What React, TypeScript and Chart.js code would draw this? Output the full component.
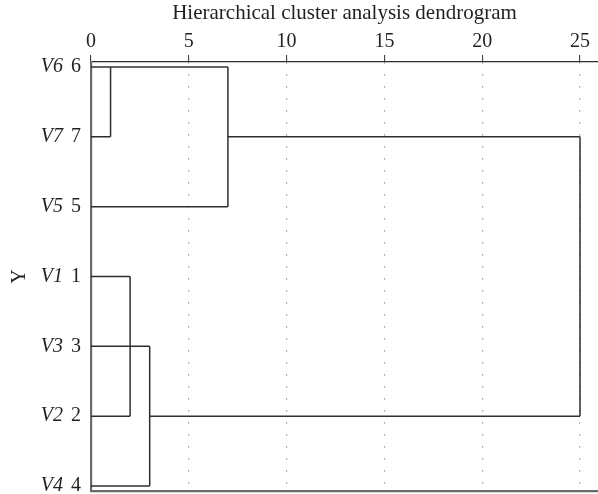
import React, { useEffect, useRef } from "react";
import { Chart, registerables } from "chart.js";

Chart.register(...registerables);

// Leaves (top to bottom)
const leafNames = ["V6", "V7", "V5", "V1", "V3", "V2", "V4"];
const leafIds = ["6", "7", "5", "1", "3", "2", "4"];
const xTickValues = [0, 5, 10, 15, 20, 25];

// Horizontal segments: row index, start distance, end distance
const hRow = [0, 1, 2, 1, 3, 5, 4, 6, 5];
const hFrom = [0, 0, 0, 7, 0, 0, 0, 0, 3];
const hTo = [7, 1, 7, 25, 2, 2, 3, 3, 25];

// Vertical joins: distance, from row, to row
const vAt = [1, 7, 25, 2, 3];
const vFrom = [0, 0, 1, 3, 4];
const vTo = [1, 2, 5, 5, 6];

const titleText = "Hierarchical cluster analysis dendrogram";
const yTitle = "Y";

const FONT = "'Liberation Serif', 'DejaVu Serif', serif";
const TEXT = "#231f20";
const LINE = "#2e2e2e";

export default function App() {
  const ref = useRef<HTMLCanvasElement | null>(null);

  useEffect(() => {
    document.body.style.margin = "0";
    const canvas = ref.current;
    if (!canvas) return;

    const datasets: any[] = [];
    hRow.forEach((r, i) => {
      datasets.push({
        data: [
          { x: hFrom[i], y: r },
          { x: hTo[i], y: r },
        ],
      });
    });
    vAt.forEach((d, i) => {
      datasets.push({
        data: [
          { x: d, y: vFrom[i] },
          { x: d, y: vTo[i] },
        ],
      });
    });
    datasets.forEach((ds) => {
      ds.borderColor = LINE;
      ds.borderWidth = 1.5;
      ds.pointRadius = 0;
      ds.fill = false;
      ds.tension = 0;
      ds.xAxisID = "x";
      ds.yAxisID = "y";
      ds.clip = false;
    });

    const rowTicks = (s: any) => {
      s.ticks = leafIds.map((_, i) => ({ value: i }));
    };

    const chart = new Chart(canvas, {
      type: "line",
      data: { datasets },
      options: {
        animation: false,
        responsive: false,
        maintainAspectRatio: false,
        events: [],
        layout: { padding: { left: 0, right: 0, top: 0, bottom: 3 } },
        plugins: {
          legend: { display: false },
          tooltip: { enabled: false },
          title: { display: false },
        },
        scales: {
          x: {
            type: "linear",
            position: "top",
            min: 0,
            max: 25.92,
            afterBuildTicks: (s: any) => {
              s.ticks = xTickValues.map((v) => ({ value: v }));
            },
            ticks: {
              includeBounds: false,
              padding: 1,
              color: TEXT,
              font: { family: FONT, size: 20 },
              maxRotation: 0,
            },
            grid: {
              display: true,
              drawOnChartArea: true,
              color: "#8a8a8a",
              lineWidth: 1.2,
              drawTicks: true,
              tickLength: 7,
              tickColor: LINE,
              tickWidth: 1,
              tickBorderDash: [],
            } as any,
            border: { display: true, color: LINE, width: 1.2, dash: [1.2, 10.8] },
            title: {
              display: true,
              text: titleText,
              color: TEXT,
              font: { family: FONT, size: 21 },
              padding: { top: 1, bottom: 0 },
            },
            afterFit: (s: any) => {
              s.height = 62;
              s.paddingLeft = 0;
              s.paddingRight = 0;
            },
          },
          x2: {
            type: "linear",
            position: "bottom",
            min: 0,
            max: 1,
            ticks: { display: false },
            grid: { display: false, drawTicks: false },
            border: { display: true, color: "#6a6a6a", width: 2.2 },
            afterFit: (s: any) => {
              s.height = 0;
              s.paddingLeft = 0;
              s.paddingRight = 0;
            },
          },
          y: {
            type: "linear",
            position: "left",
            weight: 0,
            reverse: true,
            min: -0.07,
            max: 6.07,
            afterBuildTicks: rowTicks,
            ticks: {
              padding: 10,
              color: TEXT,
              font: { family: FONT, size: 20 },
              callback: (_v: any, i: number) => leafIds[i],
            },
            grid: { display: false, drawTicks: false },
            border: { display: true, color: "#6a6a6a", width: 2.2 },
            afterFit: (s: any) => {
              s.width = 20;
              s.paddingTop = 0;
              s.paddingBottom = 0;
            },
          },
          y2: {
            type: "linear",
            position: "left",
            weight: 1,
            reverse: true,
            min: -0.07,
            max: 6.07,
            afterBuildTicks: rowTicks,
            ticks: {
              padding: 8,
              color: TEXT,
              font: { family: FONT, size: 20, style: "italic" },
              callback: (_v: any, i: number) => leafNames[i],
            },
            grid: { display: false, drawTicks: false },
            border: { display: false },
            title: {
              display: true,
              text: yTitle,
              color: TEXT,
              font: { family: FONT, size: 20 },
              padding: { top: 8, bottom: 0 },
            },
            afterFit: (s: any) => {
              s.width = 71;
              s.paddingTop = 0;
              s.paddingBottom = 0;
            },
          },
        },
      } as any,
    });

    return () => chart.destroy();
  }, []);

  return (
    <div style={{ width: 598, height: 494 }}>
      <canvas ref={ref} width={598} height={494} style={{ display: "block" }} />
    </div>
  );
}
